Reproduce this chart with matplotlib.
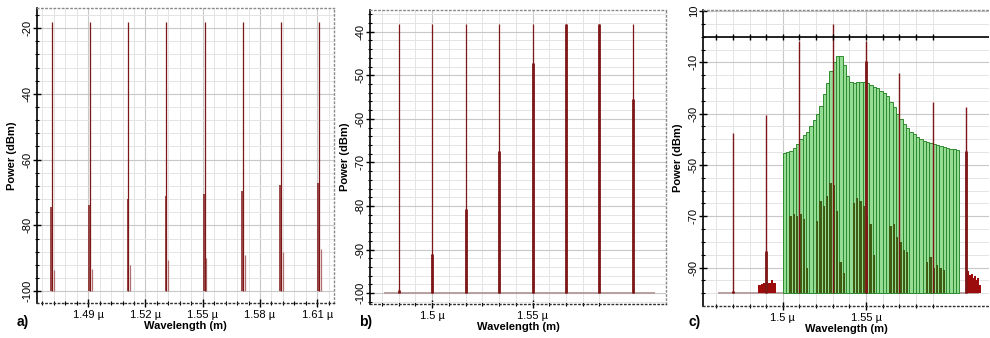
"""Three optical spectra: CWDM comb, transmitted comb, amplified comb with ASE."""

import matplotlib

matplotlib.use("Agg")
import matplotlib.pyplot as plt
from matplotlib.ticker import FixedLocator, FuncFormatter

plt.rcParams["font.family"] = ["Liberation Sans", "DejaVu Sans"]

# ---- panel a: laser comb -------------------------------------------------
a_wl = [1.471, 1.491, 1.511, 1.531, 1.551, 1.571, 1.591, 1.611]
a_peak = [-18.2, -18.2, -18.2, -18.2, -18.2, -18.2, -18.2, -18.2]
a_side_left = [-74.4, -73.9, -71.9, -71.2, -70.6, -69.6, -67.8, -67.1]
a_side_right = [-93.7, -93.2, -92.2, -90.6, -89.9, -89.1, -88.1, -87.3]

# ---- panel b: after transmission ----------------------------------------
b_wl = [1.4833, 1.5, 1.5167, 1.5333, 1.55, 1.5667, 1.5833, 1.6]
b_peak = [-38.2, -38.2, -38.2, -38.2, -38.2, -38.2, -38.2, -38.2]
b_strong = [-99.4, -91.1, -80.8, -67.4, -47.1, -38.2, -38.2, -55.4]
b_floor_span = [1.476, 1.611]
b_floor = -100

# ---- panel c: amplified comb + ASE ---------------------------------------
c_wl = [1.47, 1.49, 1.51, 1.53, 1.55, 1.57, 1.59, 1.61]
c_peak = [-37.4, -30.6, -1.5, 5.0, -1.5, -14.3, -25.4, -27.4]
c_strong = [-99.0, -83.4, -100, -100, -9.5, -100, -100, -44.7]
c_floor_span = [1.461, 1.618]
c_floor = -100

c_ase_start = 1.500
c_ase_step = 0.002
c_ase_top = [
    -45.5, -45.0, -44.5, -43.5, -42.0, -40.0, -38.5, -37.0, -35.0, -32.5,
    -30.0, -27.0, -22.5, -18.0, -13.5, -10.0, -7.5, -7.5, -11.0, -15.5,
    -17.5, -18.0, -17.5, -17.5, -17.8, -18.2, -18.8, -19.5, -20.0, -21.0,
    -22.0, -23.0, -25.5, -27.5, -30.0, -32.0, -34.0, -35.5, -37.0, -38.0,
    -39.0, -40.0, -40.5, -41.0, -41.5, -42.0, -42.3, -42.6, -43.0, -43.3,
    -43.6, -43.8, -44.0,
]
c_ase_inner = [
    -100, -100, -70, -69, -70, -69, -71, -90, -100, -100,
    -72, -64, -66, -62, -57, -58, -68, -88, -92, -100,
    -100, -65, -63, -64, -66, -70, -73, -85, -100, -100,
    -100, -100, -74, -73, -78, -80, -83, -84, -100, -100,
    -100, -100, -100, -88, -86, -90, -89, -90, -91, -100,
    -100, -100, -100,
]
c_noise_left_wl = [1.486, 1.4875, 1.489, 1.4905, 1.492, 1.4935, 1.495]
c_noise_left = [-97.0, -96.5, -96.0, -95.5, -96.0, -95.0, -96.0]
c_noise_right_wl = [1.6115, 1.6125, 1.6135, 1.6145, 1.6155, 1.6165, 1.6175, 1.6185]
c_noise_right = [-91.5, -93.0, -92.5, -94.0, -93.5, -95.0, -94.0, -97.0]

SPIKE = "#7e1616"
SPIKE_LIGHT = "#b07070"
FLOOR = "#b49a9a"
ASE_FACE = "#95dc95"
ASE_EDGE = "#2f8a2f"
ASE_INNER = "#3e5c12"


def style_axes(ax, xlim, ylim, xmajor, xminor, ymajor, yminor):
    ax.set_xlim(*xlim)
    ax.set_ylim(*ylim)
    ax.xaxis.set_major_locator(FixedLocator(xmajor))
    ax.xaxis.set_minor_locator(FixedLocator(xminor))
    ax.yaxis.set_major_locator(FixedLocator(ymajor))
    ax.yaxis.set_minor_locator(FixedLocator(yminor))
    ax.xaxis.set_major_formatter(FuncFormatter(lambda v, _: f"{v:g} \u00b5"))
    ax.yaxis.set_major_formatter(FuncFormatter(lambda v, _: f"{v:g}"))
    ax.grid(True, which="minor", color="#e4e4e4", lw=0.7, zorder=0)
    ax.grid(True, which="major", color="#c8c8c8", lw=0.8, zorder=0)
    ax.set_axisbelow(True)
    ax.tick_params(axis="both", which="major", direction="inout", length=6,
                   width=1, labelsize=8, colors="black", pad=2)
    ax.tick_params(axis="y", which="major", pad=0)
    ax.tick_params(axis="both", which="minor", direction="inout", length=3,
                   width=0.8)
    plt.setp(ax.get_yticklabels(), rotation=90, va="center", ha="right")
    for side in ("top", "right", "bottom"):
        ax.spines[side].set_linestyle((0, (1, 2)))
        ax.spines[side].set_linewidth(1)
    ax.spines["top"].set_color("#8a8a8a")
    ax.spines["right"].set_color("#8a8a8a")
    ax.spines["bottom"].set_color("#303030")
    ax.spines["left"].set_linewidth(1.2)
    ax.set_xlabel("Wavelength (m)", fontsize=8, fontweight="bold", labelpad=1)
    ax.set_ylabel("Power (dBm)", fontsize=8, fontweight="bold", labelpad=4)


def frange(start, stop, step):
    out = []
    v = start
    while v <= stop + 1e-9:
        out.append(round(v, 6))
        v += step
    return out


def draw_panel_a(ax):
    for wl, pk, lo, hi in zip(a_wl, a_peak, a_side_left, a_side_right):
        ax.vlines(wl - 0.0004, -100, lo, color=SPIKE, lw=1.1, zorder=3)
        ax.vlines(wl + 0.0009, -100, hi, color=SPIKE_LIGHT, lw=0.9, zorder=3)
        ax.vlines(wl, -100, pk, color=SPIKE, lw=0.9, zorder=4)
    style_axes(
        ax, (1.4632, 1.6188), (-103.6, -13.9),
        [1.49, 1.52, 1.55, 1.58, 1.61], frange(1.466, 1.618, 0.006),
        [-100, -80, -60, -40, -20], frange(-100, -16, 4),
    )


def draw_panel_b(ax):
    ax.hlines(b_floor, *b_floor_span, color=FLOOR, lw=1.3, zorder=2)
    for wl, pk, st in zip(b_wl, b_peak, b_strong):
        ax.vlines(wl, -100, pk, color=SPIKE, lw=0.9, zorder=3)
        ax.vlines(wl, -100, st, color=SPIKE, lw=2.0, zorder=3)
    style_axes(
        ax, (1.469, 1.6165), (-102.5, -35),
        [1.5, 1.55], frange(1.475, 1.5834, 0.05 / 6),
        [-100, -90, -80, -70, -60, -50, -40], frange(-102, -36, 2),
    )


def draw_panel_c(ax):
    ase_wl = [c_ase_start + c_ase_step * i for i in range(len(c_ase_top))]
    ax.hlines(c_floor, *c_floor_span, color=FLOOR, lw=1.3, zorder=2)
    ax.bar(ase_wl, [t - c_floor for t in c_ase_top], bottom=c_floor,
           width=c_ase_step, color=ASE_FACE, edgecolor=ASE_EDGE, lw=0.7,
           align="edge", zorder=2)
    ax.bar(ase_wl, [t - c_floor for t in c_ase_inner], bottom=c_floor,
           width=c_ase_step * 0.7, color=ASE_INNER, lw=0, align="edge",
           zorder=2.5)
    ax.bar(c_noise_left_wl, [t - c_floor for t in c_noise_left], bottom=c_floor,
           width=0.0015, color="#9c0c0c", lw=0, zorder=3)
    ax.bar(c_noise_right_wl, [t - c_floor for t in c_noise_right], bottom=c_floor,
           width=0.0011, color="#9c0c0c", lw=0, zorder=3)
    for wl, pk, st in zip(c_wl, c_peak, c_strong):
        ax.vlines(wl, -100, pk, color=SPIKE, lw=1.0, zorder=3)
        ax.vlines(wl, -100, st, color=SPIKE, lw=2.0, zorder=3)
    # zero-level axis line drawn by the instrument
    ax.axhline(0, color="black", lw=1.2, zorder=4)
    minor_x = frange(1.46, 1.59, 0.01)
    ax.plot(minor_x, [0] * len(minor_x), ls="none", marker="|", ms=4,
            mew=1, color="black", zorder=4)
    style_axes(
        ax, (1.452, 1.624), (-105, 10.4),
        [1.5, 1.55], minor_x,
        [-90, -70, -50, -30, -10, 10], frange(-100, 10, 5),
    )
    ax.spines["right"].set_visible(False)


def main() -> None:
    fig = plt.figure(figsize=(9.9, 3.38), dpi=100)
    ax_a = fig.add_axes([0.0374, 0.1036, 0.3000, 0.8727])
    ax_b = fig.add_axes([0.3737, 0.1006, 0.2990, 0.8698])
    ax_c = fig.add_axes([0.7101, 0.0947, 0.2890, 0.8757])
    draw_panel_a(ax_a)
    draw_panel_b(ax_b)
    draw_panel_c(ax_c)
    for x, letter in ((0.017, "a)"), (0.363, "b)"), (0.695, "c)")):
        fig.text(x, 0.035, letter, fontsize=10, fontweight="bold")
    fig.savefig("out.png", dpi=100)
    plt.close(fig)


if __name__ == "__main__":
    main()
